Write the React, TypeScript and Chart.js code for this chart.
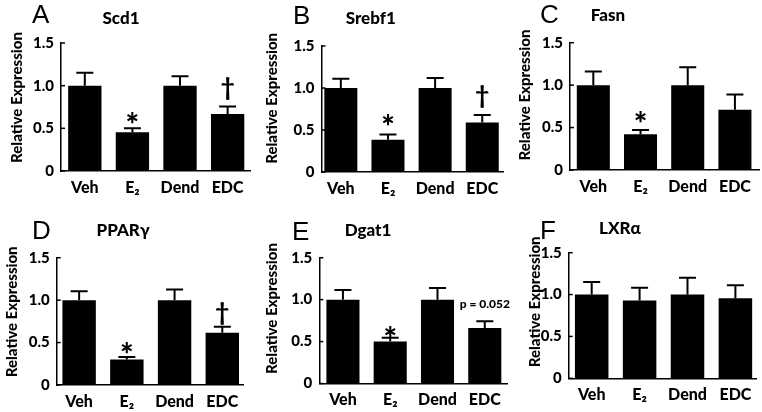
import { useEffect, useRef } from 'react';
import { Chart, registerables } from 'chart.js';

Chart.register(...registerables);

const categories = ['Veh', 'E\u2082', 'Dend', 'EDC'];
const yTickValues = [0, 0.5, 1.0, 1.5];

const scd1Mean = [1.0, 0.455, 1.0, 0.667];
const scd1Sem = [0.152, 0.045, 0.11, 0.089];
const srebf1Mean = [1.0, 0.385, 1.0, 0.59];
const srebf1Sem = [0.11, 0.06, 0.12, 0.09];
const fasnMean = [1.0, 0.42, 1.0, 0.71];
const fasnSem = [0.16, 0.05, 0.21, 0.18];
const pparMean = [1.0, 0.30, 1.0, 0.615];
const pparSem = [0.106, 0.03, 0.125, 0.07];
const dgat1Mean = [1.0, 0.50, 1.0, 0.663];
const dgat1Sem = [0.116, 0.045, 0.14, 0.08];
const lxrMean = [1.0, 0.93, 1.0, 0.955];
const lxrSem = [0.15, 0.15, 0.20, 0.155];

type Mark = { i: number; t: string; dy: number; small?: boolean };
type Panel = {
  letter: string;
  gene: string;
  mean: number[];
  sem: number[];
  marks: Mark[];
  box: { x: number; y: number; w: number; h: number };
  area: { left: number; top: number; right: number; bottom: number };
  xr: [number, number];
  letterPos: [number, number];
  titlePos: [number, number];
  yTitlePos: [number, number];
};

const panels: Panel[] = [
  {
    letter: 'A', gene: 'Scd1', mean: scd1Mean, sem: scd1Sem,
    marks: [{ i: 1, t: '*', dy: 10 }, { i: 3, t: '\u2020', dy: 17.5 }],
    box: { x: 0, y: 0, w: 254, h: 206 }, area: { left: 61, top: 43, right: 250, bottom: 171 },
    xr: [-0.5, 3.47], letterPos: [32, 23.3], titlePos: [121, 17], yTitlePos: [17, 97.5],
  },
  {
    letter: 'B', gene: 'Srebf1', mean: srebf1Mean, sem: srebf1Sem,
    marks: [{ i: 1, t: '*', dy: 14.7 }, { i: 3, t: '\u2020', dy: 18.4 }],
    box: { x: 254, y: 0, w: 254, h: 206 }, area: { left: 321.5, top: 46, right: 503, bottom: 172 },
    xr: [-0.41, 3.44], letterPos: [293, 24], titlePos: [370.7, 17], yTitlePos: [272.3, 98.3],
  },
  {
    letter: 'C', gene: 'Fasn', mean: fasnMean, sem: fasnSem,
    marks: [{ i: 1, t: '*', dy: 12.7 }],
    box: { x: 508, y: 0, w: 254, h: 206 }, area: { left: 570, top: 42.7, right: 759, bottom: 170 },
    xr: [-0.494, 3.51], letterPos: [540, 23], titlePos: [608, 15], yTitlePos: [524.7, 95],
  },
  {
    letter: 'D', gene: 'PPAR\u03b3', mean: pparMean, sem: pparSem,
    marks: [{ i: 1, t: '*', dy: 9.3 }, { i: 3, t: '\u2020', dy: 13.3 }],
    box: { x: 0, y: 206, w: 254, h: 206 }, area: { left: 56.7, top: 257.7, right: 243.3, bottom: 385 },
    xr: [-0.47, 3.44], letterPos: [32, 239], titlePos: [123, 231], yTitlePos: [11.7, 311.8],
  },
  {
    letter: 'E', gene: 'Dgat1', mean: dgat1Mean, sem: dgat1Sem,
    marks: [{ i: 1, t: '*', dy: 6 }, { i: 3, t: 'p = 0.052', dy: 16, small: true }],
    box: { x: 254, y: 206, w: 262, h: 206 }, area: { left: 319.3, top: 257.7, right: 507, bottom: 383.5 },
    xr: [-0.5, 3.47], letterPos: [292, 239.5], titlePos: [368, 231], yTitlePos: [272.3, 308.5],
  },
  {
    letter: 'F', gene: 'LXR\u03b1', mean: lxrMean, sem: lxrSem,
    marks: [],
    box: { x: 508, y: 206, w: 254, h: 206 }, area: { left: 568.7, top: 252.7, right: 756, bottom: 378.3 },
    xr: [-0.48, 3.43], letterPos: [540, 239.3], titlePos: [620, 228], yTitlePos: [534.7, 301.8],
  },
];

const FONT = 'Lato, "Open Sans", sans-serif';
const HEAVY = '900';

function drawCentered(ctx: CanvasRenderingContext2D, t: string, cx: number, cy: number) {
  ctx.textAlign = 'center';
  ctx.textBaseline = 'alphabetic';
  const m = ctx.measureText(t);
  const base = cy + (m.actualBoundingBoxAscent - m.actualBoundingBoxDescent) / 2;
  ctx.fillText(t, cx, base);
}

function makePlugin(p: Panel) {
  return {
    id: 'panelDecor' + p.letter,
    afterDraw(chart: any) {
      const ctx: CanvasRenderingContext2D = chart.ctx;
      const ox = p.box.x;
      const oy = p.box.y;
      const ys = chart.scales.y;
      const area = chart.chartArea;
      const meta = chart.getDatasetMeta(0);
      ctx.save();
      ctx.fillStyle = '#000';
      ctx.strokeStyle = '#000';
      // inward y ticks
      ctx.lineWidth = 1.5;
      ys.ticks.forEach((tk: any) => {
        const py = ys.getPixelForValue(tk.value);
        ctx.beginPath();
        ctx.moveTo(area.left, py);
        ctx.lineTo(area.left + 4, py);
        ctx.stroke();
      });
      // error bars
      ctx.lineWidth = 2;
      meta.data.forEach((bar: any, i: number) => {
        const top = ys.getPixelForValue(p.mean[i] + p.sem[i]);
        ctx.beginPath();
        ctx.moveTo(bar.x, bar.y);
        ctx.lineTo(bar.x, top);
        ctx.moveTo(bar.x - 8.5, top);
        ctx.lineTo(bar.x + 8.5, top);
        ctx.stroke();
      });
      // significance marks
      p.marks.forEach((mk) => {
        const bar = meta.data[mk.i];
        const top = ys.getPixelForValue(p.mean[mk.i] + p.sem[mk.i]);
        if (mk.small) ctx.font = `${HEAVY} 12px ${FONT}`;
        else if (mk.t === '*') ctx.font = `${HEAVY} 32px ${FONT}`;
        else ctx.font = `${HEAVY} 24px ${FONT}`;
        drawCentered(ctx, mk.t, bar.x, top - mk.dy);
      });
      // panel letter
      ctx.font = `26px "Liberation Sans", Arial, sans-serif`;
      ctx.textAlign = 'left';
      ctx.textBaseline = 'alphabetic';
      ctx.fillText(p.letter, p.letterPos[0] - ox, p.letterPos[1] - oy);
      // gene title
      ctx.font = `${HEAVY} 17px ${FONT}`;
      drawCentered(ctx, p.gene, p.titlePos[0] - ox, p.titlePos[1] - oy);
      // y axis title
      ctx.save();
      ctx.translate(p.yTitlePos[0] - ox, p.yTitlePos[1] - oy);
      ctx.rotate(-Math.PI / 2);
      ctx.font = `${HEAVY} 15px ${FONT}`;
      ctx.textAlign = 'center';
      ctx.textBaseline = 'middle';
      ctx.fillText('Relative Expression', 0, 0);
      ctx.restore();
      ctx.restore();
    },
  };
}

function PanelChart({ p }: { p: Panel }) {
  const ref = useRef<HTMLCanvasElement | null>(null);
  useEffect(() => {
    if (!ref.current) return;
    const chart = new Chart(ref.current, {
      type: 'bar',
      data: {
        datasets: [
          {
            data: p.mean.map((v, i) => ({ x: i, y: v })),
            backgroundColor: '#000',
            borderWidth: 0,
            barPercentage: 0.7,
            categoryPercentage: 1,
          },
        ],
      },
      options: {
        animation: false,
        responsive: false,
        devicePixelRatio: 1,
        events: [],
        layout: {
          padding: {
            left: 0,
            top: p.area.top - p.box.y,
            right: p.box.x + p.box.w - p.area.right,
            bottom: 0,
          },
        },
        plugins: { legend: { display: false }, tooltip: { enabled: false }, title: { display: false } },
        scales: {
          x: {
            type: 'linear',
            offset: false,
            min: p.xr[0],
            max: p.xr[1],
            afterFit: (s: any) => {
              s.height = p.box.y + p.box.h - p.area.bottom;
            },
            grid: { display: false, drawTicks: false, offset: false },
            border: { display: true, color: '#000', width: 1.5 },
            ticks: {
              stepSize: 1,
              includeBounds: false,
              autoSkip: false,
              maxRotation: 0,
              padding: 7,
              color: '#000',
              font: { family: FONT, weight: HEAVY, size: 16 },
              callback: (v: any) => (Number.isInteger(v) && categories[v] !== undefined ? categories[v] : ''),
            },
          },
          y: {
            type: 'linear',
            min: yTickValues[0],
            max: yTickValues[yTickValues.length - 1],
            afterFit: (s: any) => {
              s.width = p.area.left - p.box.x;
            },
            afterBuildTicks: (s: any) => {
              s.ticks = yTickValues.map((v) => ({ value: v }));
            },
            grid: { display: false, drawTicks: false },
            border: { display: true, color: '#000', width: 1.5 },
            ticks: {
              padding: 7,
              color: '#000',
              font: { family: FONT, weight: HEAVY, size: 15 },
              callback: (v: any) => (v === 0 ? '0' : Number(v).toFixed(1)),
            },
          },
        },
      } as any,
      plugins: [makePlugin(p)],
    });
    return () => chart.destroy();
  }, [p]);
  return (
    <canvas
      ref={ref}
      width={p.box.w}
      height={p.box.h}
      style={{ position: 'absolute', left: p.box.x, top: p.box.y, width: p.box.w, height: p.box.h }}
    />
  );
}

export default function App() {
  return (
    <div style={{ position: 'fixed', left: 0, top: 0, width: 762, height: 412, background: '#fff', overflow: 'hidden' }}>
      {panels.map((p) => (
        <PanelChart key={p.letter} p={p} />
      ))}
    </div>
  );
}
